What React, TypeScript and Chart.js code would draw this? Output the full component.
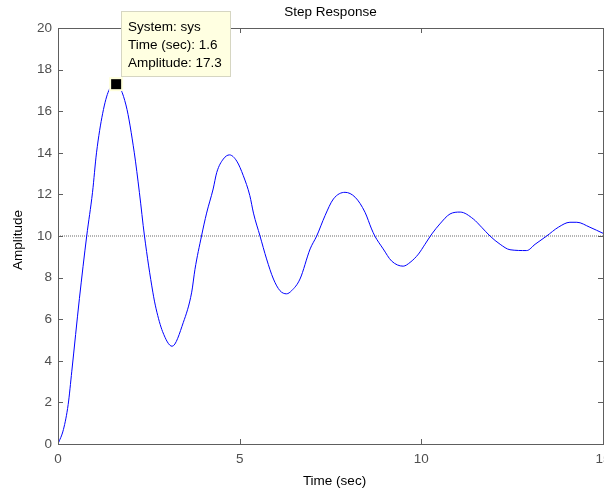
import React, { useEffect, useRef } from "react";
import { Chart, registerables } from "chart.js";

Chart.register(...registerables);

const chartTitle = "Step Response";
const xTitle = "Time (sec)";
const yTitle = "Amplitude";

const timeSec = [
  0, 0.15, 0.28, 0.38, 0.59, 0.79, 0.95, 1.06, 1.23, 1.4, 1.6, 1.87, 2.1, 2.24, 2.38, 2.61, 2.7, 2.88, 3.14,
  3.45, 3.68, 3.77, 3.95, 4.09, 4.27, 4.37, 4.55, 4.72, 4.92, 5.1, 5.28, 5.38, 5.56, 5.74, 5.93, 6.11, 6.29,
  6.43, 6.66, 6.94, 7.12, 7.35, 7.58, 7.9, 8.18, 8.45, 8.63, 8.72, 8.95, 9.18, 9.5, 9.69, 9.92, 10.1, 10.29,
  10.51, 10.79, 11.07, 11.43, 11.66, 11.89, 12.17, 12.44, 12.9, 13.13, 13.45, 13.77, 14.09, 14.28, 14.64, 15.0,
];
const amplitude = [
  0, 0.7, 1.9, 3.5, 7.0, 10.0, 12.1, 14.0, 15.9, 17.0, 17.3, 16.3, 14.0, 12.1, 10.0, 7.3, 6.5, 5.4, 4.7,
  5.85, 7.3, 8.4, 10.0, 11.1, 12.26, 13.06, 13.7, 13.9, 13.6, 12.9, 11.94, 11.1, 10.0, 8.9, 7.93, 7.37, 7.22,
  7.37, 7.93, 9.38, 10.0, 10.98, 11.78, 12.1, 11.86, 11.14, 10.34, 10.0, 9.38, 8.8, 8.55, 8.73, 9.13, 9.6, 10.1,
  10.58, 11.06, 11.15, 10.82, 10.42, 10.0, 9.6, 9.34, 9.3, 9.6, 10.0, 10.42, 10.66, 10.66, 10.42, 10.13,
];
const finalValue = 10;
const xTicks = [0, 5, 10, 15];
const yTicks = [0, 2, 4, 6, 8, 10, 12, 14, 16, 18, 20];
const peakTime = 1.6;
const peakAmp = 17.3;
const tipLines = ["System: sys", `Time (sec): ${peakTime}`, `Amplitude: ${peakAmp}`];

const FONT = "'Liberation Sans', Arial, Helvetica, sans-serif";

const matlabPlugin = {
  id: "matlabDecor",
  afterDatasetsDraw(chart: any) {
    const ctx = chart.ctx;
    const { left, right, top, bottom } = chart.chartArea;
    const xs = chart.scales.x;
    const ys = chart.scales.y;
    ctx.save();
    ctx.strokeStyle = "#5e5e5e";
    ctx.lineWidth = 1;
    ctx.strokeRect(Math.round(left) + 0.5, Math.round(top) + 0.5, Math.round(right - left), Math.round(bottom - top));
    const tl = 5;
    ctx.beginPath();
    xTicks.forEach((v) => {
      const px = Math.round(xs.getPixelForValue(v)) + 0.5;
      ctx.moveTo(px, bottom);
      ctx.lineTo(px, bottom - tl);
      ctx.moveTo(px, top);
      ctx.lineTo(px, top + tl);
    });
    yTicks.forEach((v) => {
      const py = Math.round(ys.getPixelForValue(v)) + 0.5;
      ctx.moveTo(left, py);
      ctx.lineTo(left + tl, py);
      ctx.moveTo(right, py);
      ctx.lineTo(right - tl, py);
    });
    ctx.stroke();

    const mx = xs.getPixelForValue(peakTime);
    const my = ys.getPixelForValue(peakAmp);
    ctx.fillStyle = "#ffffdc";
    ctx.fillRect(mx - 7, my - 7, 14, 14);
    ctx.fillStyle = "#000000";
    ctx.fillRect(mx - 5, my - 5, 10, 10);

    ctx.fillStyle = "#000000";
    ctx.font = `13.5px ${FONT}`;
    ctx.textAlign = "center";
    ctx.textBaseline = "middle";
    ctx.fillText(chartTitle, (left + right) / 2, 12);
    ctx.fillText(xTitle, (left + right) / 2 + 4, 481);
    ctx.save();
    ctx.translate(18, (top + bottom) / 2 + 4);
    ctx.rotate(-Math.PI / 2);
    ctx.fillText(yTitle, 0, 0);
    ctx.restore();

    const bx = Math.round(mx) + 5;
    const by = Math.round(my) - 73;
    ctx.fillStyle = "#ffffe1";
    ctx.fillRect(bx, by, 110, 66);
    ctx.strokeStyle = "#d6d6c2";
    ctx.strokeRect(bx + 0.5, by + 0.5, 109, 65);
    ctx.fillStyle = "#000000";
    ctx.textAlign = "left";
    tipLines.forEach((s, i) => ctx.fillText(s, bx + 7, by + 16 + i * 18));
    ctx.restore();
  },
};

export default function App() {
  const ref = useRef<HTMLCanvasElement | null>(null);
  useEffect(() => {
    if (!ref.current) return;
    const stepData = timeSec.map((t, i) => ({ x: t, y: amplitude[i] }));
    const finalData = [
      { x: xTicks[0], y: finalValue },
      { x: xTicks[xTicks.length - 1], y: finalValue },
    ];
    const tickFont = { family: FONT, size: 13.5 };
    const chart = new Chart(ref.current, {
      type: "line",
      data: {
        datasets: [
          {
            data: stepData,
            borderColor: "#0000ff",
            borderWidth: 1,
            pointRadius: 0,
            cubicInterpolationMode: "monotone",
            fill: false,
          },
          {
            data: finalData,
            borderColor: "#6a6a6a",
            borderWidth: 1,
            borderDash: [1, 1],
            pointRadius: 0,
            fill: false,
          },
        ],
      },
      options: {
        responsive: false,
        animation: false,
        events: [],
        layout: { padding: { top: 28, right: 37, bottom: 0, left: 0 } },
        plugins: { legend: { display: false }, tooltip: { enabled: false }, title: { display: false } },
        scales: {
          x: {
            type: "linear",
            min: 0,
            max: 15,
            grid: { display: false, drawTicks: false },
            border: { display: false },
            afterFit: (s: any) => {
              s.height = 48;
            },
            afterBuildTicks: (s: any) => {
              s.ticks = xTicks.map((v) => ({ value: v }));
            },
            ticks: { color: "#4f4f4f", font: tickFont, padding: 7, maxRotation: 0, autoSkip: false },
          },
          y: {
            type: "linear",
            min: 0,
            max: 20,
            grid: { display: false, drawTicks: false },
            border: { display: false },
            afterFit: (s: any) => {
              s.width = 58;
            },
            afterBuildTicks: (s: any) => {
              s.ticks = yTicks.map((v) => ({ value: v }));
            },
            ticks: { color: "#4f4f4f", font: tickFont, padding: 6, autoSkip: false },
          },
        },
      },
      plugins: [matlabPlugin],
    });
    return () => chart.destroy();
  }, []);
  return (
    <div
      style={{
        position: "fixed",
        left: 0,
        top: 0,
        width: 604,
        height: 492,
        overflow: "hidden",
        background: "#ffffff",
      }}
    >
      <canvas ref={ref} width={640} height={492} style={{ display: "block", width: 640, height: 492 }} />
    </div>
  );
}
